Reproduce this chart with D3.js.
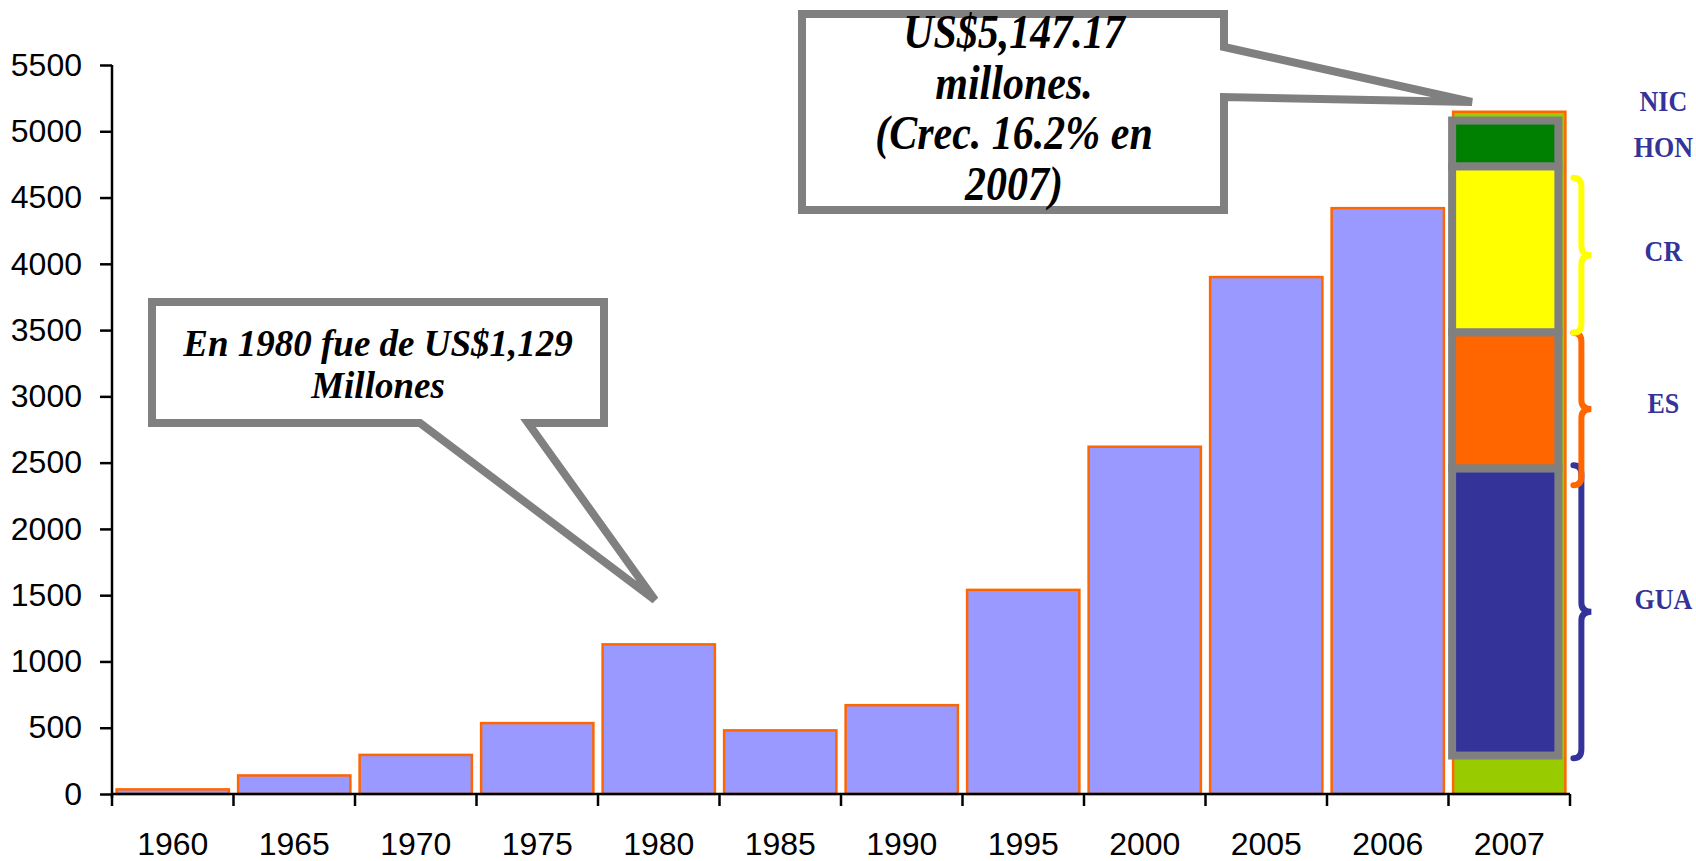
<!DOCTYPE html>
<html>
<head>
<meta charset="utf-8">
<script src="https://cdn.jsdelivr.net/npm/d3@7"></script>
<style>
body{margin:0;background:#fff;}
svg{display:block;}
</style>
</head>
<body>
<svg id="svg" width="1696" height="861"></svg>
<script>
// data
var years=["1960","1965","1970","1975","1980","1985","1990","1995","2000","2005","2006","2007"];
var totals=[35,140,295,535,1129,480,670,1540,2620,3900,4420,5147.17];
var yTicks=[0,500,1000,1500,2000,2500,3000,3500,4000,4500,5000,5500];

// 2007 breakdown (stacked box drawn over the last bar)
var countries=["GUA","ES","CR","HON"];
var countryValues=[2167,1027,1252,345];
var stackBase=290;
var countryColors=["#333399","#FF6600","#FFFF00","#008000"];

// braces on the right side: GUA, ES, CR
var braceRanges=[[270,2480],[2330,3480],[3480,4650]];
var braceColors=["#333399","#FF6600","#FFFF00"];
var sideLabels=["NIC","HON","CR","ES","GUA"];

var callout1980=["En 1980 fue de US$1,129","Millones"];
var callout2007=["US$5,147.17","millones.","(Crec. 16.2% en","2007)"];

var svg=d3.select("#svg");

var x=d3.scaleBand().domain(years).range([112,1570]).paddingInner(0.076).paddingOuter(0.038);
var y=d3.scaleLinear().domain([0,5500]).range([794,65]);

//bars
svg.append("g").selectAll("rect")
    .data(totals).enter().append("rect")
        .attr("x",(d,i)=>x(years[i]))
        .attr("y",d=>y(d))
        .attr("width",x.bandwidth())
        .attr("height",d=>y(0)-y(d))
        .attr("fill",(d,i)=>i==years.length-1?"#99CC00":"#9999FF")
        .attr("stroke","#FF6600")
        .attr("stroke-width",2.5)

//stacked breakdown for 2007
var bx=x("2007"), bw=x.bandwidth();
var acc=stackBase;
var segs=countryValues.map((v,i)=>{var s={c:countries[i],y0:acc,y1:acc+v,col:countryColors[i]};acc+=v;return s;});
svg.append("g").selectAll("rect")
    .data(segs).enter().append("rect")
        .attr("x",bx-1)
        .attr("width",bw-6)
        .attr("y",d=>y(d.y1))
        .attr("height",d=>y(d.y0)-y(d.y1))
        .attr("fill",d=>d.col)
        .attr("stroke","#808080")
        .attr("stroke-width",8)

//braces
var bRight=bx+bw;
function brace(y0,y1) {
    var x0=bRight+8, xs=bRight+16, xt=bRight+26, ym=(y0+y1)/2, r=9;
    return "M"+x0+","+y0+" Q"+xs+","+y0+" "+xs+","+(y0+r)+" L"+xs+","+(ym-r)+" Q"+xs+","+ym+" "+xt+","+ym
        +" Q"+xs+","+ym+" "+xs+","+(ym+r)+" L"+xs+","+(y1-r)+" Q"+xs+","+y1+" "+x0+","+y1;
}
svg.append("g").selectAll("path")
    .data(braceRanges).enter().append("path")
        .attr("d",d=>brace(y(d[1]),y(d[0])))
        .attr("fill","none")
        .attr("stroke",(d,i)=>braceColors[i])
        .attr("stroke-width",6)
        .attr("stroke-linecap","round")

//side labels
var labelY={
    NIC:y(totals[11])-1,
    HON:y(acc)+36,
    CR:y((braceRanges[2][0]+braceRanges[2][1])/2)+6,
    ES:y((braceRanges[1][0]+braceRanges[1][1])/2)+4,
    GUA:y((braceRanges[0][0]+braceRanges[0][1])/2)-3
};
svg.append("g").selectAll("text")
    .data(sideLabels).enter().append("text")
        .attr("transform",d=>"translate("+(bRight+98)+","+labelY[d]+") scale(1,1.1)")
        .attr("text-anchor","middle")
        .style("font-family","'Liberation Serif','Times New Roman',serif")
        .style("font-weight","bold")
        .style("font-size","26px")
        .attr("fill","#333399")
        .text(d=>d)

//axes
var yAxis=svg.append("g")
        .attr("transform","translate(112,0)")
    .call(d3.axisLeft(y).tickValues(yTicks).tickFormat(d3.format("d")).tickSize(12).tickSizeOuter(0).tickPadding(18))
yAxis.select(".domain").attr("stroke-width",2.5).attr("d","M0,"+y(5500)+"V"+(y(0)+4))
yAxis.selectAll("line").attr("stroke-width",2.5)
yAxis.selectAll("text")
        .style("font-family","'Liberation Sans',Arial,sans-serif")
        .style("font-size","32px")
        .attr("fill","#000")

var xAxis=svg.append("g")
        .attr("transform","translate(0,"+y(0)+")")
    .call(d3.axisBottom(x).tickSize(0).tickPadding(38))
xAxis.select(".domain").attr("stroke-width",2.5).attr("d","M112,0H1570")
xAxis.selectAll("text")
        .style("font-family","'Liberation Sans',Arial,sans-serif")
        .style("font-size","32px")
        .attr("fill","#000")
//boundary ticks between categories
xAxis.selectAll(".bound")
    .data(d3.range(years.length+1)).enter().append("line")
        .attr("class","bound")
        .attr("x1",i=>112+i*x.step())
        .attr("x2",i=>112+i*x.step())
        .attr("y1",0)
        .attr("y2",12)
        .attr("stroke","#000")
        .attr("stroke-width",2.5)

//callouts
var serif="'Liberation Serif','Times New Roman',serif";
svg.append("path")
        .attr("d","M152,302 L604,302 L604,423 L528,423 L655,600 L420,423 L152,423 Z")
        .attr("fill","#fff")
        .attr("stroke","#808080")
        .attr("stroke-width",8)
svg.append("g").selectAll("text")
    .data(callout1980).enter().append("text")
        .attr("transform",(d,i)=>"translate(378,"+(356+i*42)+") scale(1,1.05)")
        .attr("text-anchor","middle")
        .style("font-family",serif)
        .style("font-weight","bold")
        .style("font-style","italic")
        .style("font-size","37px")
        .text(d=>d)

svg.append("path")
        .attr("d","M802,14 L1224,14 L1224,47 L1472,102 L1224,97 L1224,210 L802,210 Z")
        .attr("fill","#fff")
        .attr("stroke","#808080")
        .attr("stroke-width",8)
svg.append("g").selectAll("text")
    .data(callout2007).enter().append("text")
        .attr("transform",(d,i)=>"translate(1014,"+(48+i*50.5)+") scale(1,1.15)")
        .attr("text-anchor","middle")
        .style("font-family",serif)
        .style("font-weight","bold")
        .style("font-style","italic")
        .style("font-size","42px")
        .text(d=>d)
</script>
</body>
</html>
